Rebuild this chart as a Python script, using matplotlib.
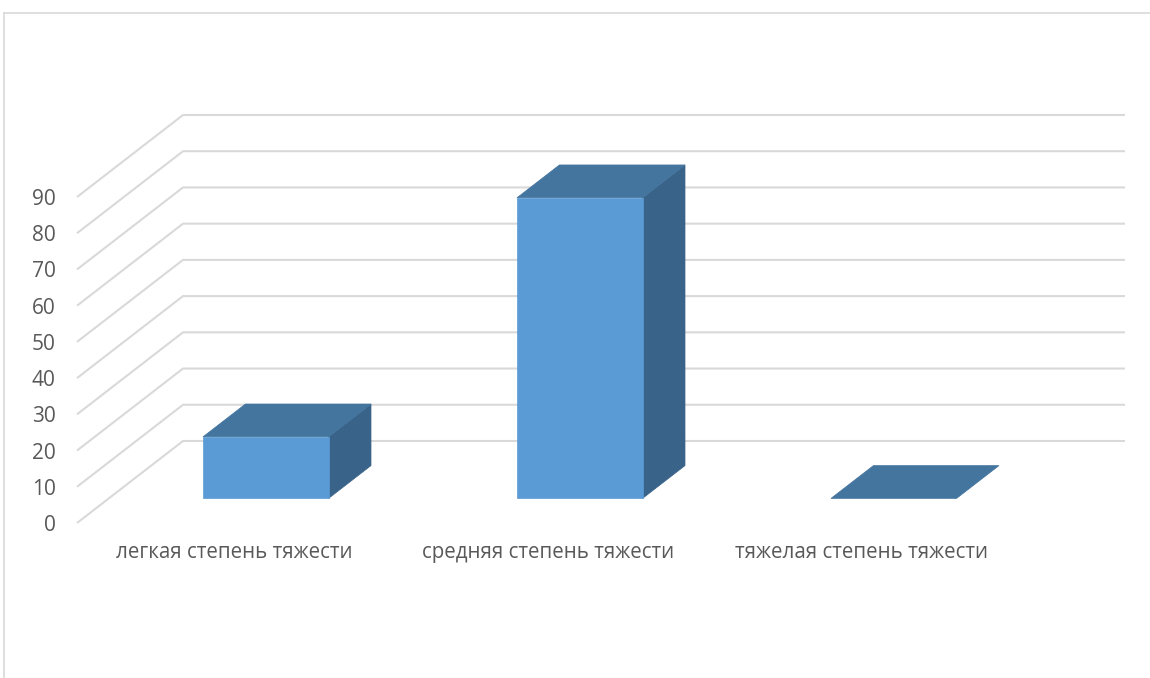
import matplotlib
matplotlib.use("Agg")
import matplotlib.pyplot as plt
from matplotlib.patches import Polygon, Rectangle
from matplotlib.lines import Line2D

# ---- data ----
categories = ["легкая степень тяжести", "средняя степень тяжести", "тяжелая степень тяжести"]
values = [17, 83, 0]
y_ticks = [0, 10, 20, 30, 40, 50, 60, 70, 80, 90]

# ---- style / projection ----
W, H, DPI = 1150, 678, 100
DX = 0.3376      # depth offset in category units (back wall)
DY = 22.64       # depth offset in value units (back wall)
T0, T1 = 0.30, 0.70   # bar depth range as fraction of full depth
BAR_W = 0.4
FRONT = "#5B9BD5"
TOP = "#44759F"
SIDE = "#3A6389"
GRID = "#D9D9D9"
TXT = "#595959"

plt.rcParams['font.family'] = ['Open Sans', 'DejaVu Sans']

fig = plt.figure(figsize=(W / DPI, H / DPI), dpi=DPI)
fig.patch.set_facecolor("white")

# outer chart border (left and top visible)
fig.add_artist(Line2D([4 / W, 4 / W], [0, 1 - 13 / H], transform=fig.transFigure, color=GRID, lw=1.2))
fig.add_artist(Line2D([4 / W, 1], [1 - 13 / H, 1 - 13 / H], transform=fig.transFigure, color=GRID, lw=1.2))

ax = fig.add_axes([77 / W, (H - 523) / H, 1048 / W, 408 / H])
ncat = len(categories)
ax.set_xlim(0, ncat + DX)
ax.set_ylim(0, y_ticks[-1] + DY)
for s in ax.spines.values():
    s.set_visible(False)
ax.set_facecolor("none")

# gridlines: left wall diagonal + back wall horizontal
for v in y_ticks:
    ax.plot([0, DX, ncat + DX], [v, v + DY, v + DY], color=GRID, lw=1.5,
            solid_capstyle="butt", zorder=1, clip_on=False)

# bars
dt = T1 - T0
for i, h in enumerate(values):
    xl = i + (1 - BAR_W) / 2 + T0 * DX
    b = T0 * DY
    xr = xl + BAR_W
    ddx, ddy = dt * DX, dt * DY
    if h > 0:
        ax.add_patch(Polygon([(xr, b), (xr + ddx, b + ddy), (xr + ddx, b + h + ddy), (xr, b + h)],
                             closed=True, facecolor=SIDE, edgecolor=SIDE, lw=0.5, zorder=3))
        ax.add_patch(Rectangle((xl, b), BAR_W, h, facecolor=FRONT, edgecolor=FRONT, lw=0.5, zorder=4))
    ax.add_patch(Polygon([(xl, b + h), (xr, b + h), (xr + ddx, b + h + ddy), (xl + ddx, b + h + ddy)],
                         closed=True, facecolor=TOP, edgecolor=TOP, lw=0.5, zorder=3))

# ticks / labels
ax.set_yticks(y_ticks)
ax.set_yticklabels([str(v) for v in y_ticks])
ax.set_xticks([i + 0.5 for i in range(ncat)])
ax.set_xticklabels(categories)
ax.tick_params(axis="y", length=0, pad=15.5, labelsize=15, labelcolor=TXT)
ax.tick_params(axis="x", length=0, pad=14, labelsize=14.8, labelcolor=TXT)

fig.savefig("out.png", dpi=DPI)
